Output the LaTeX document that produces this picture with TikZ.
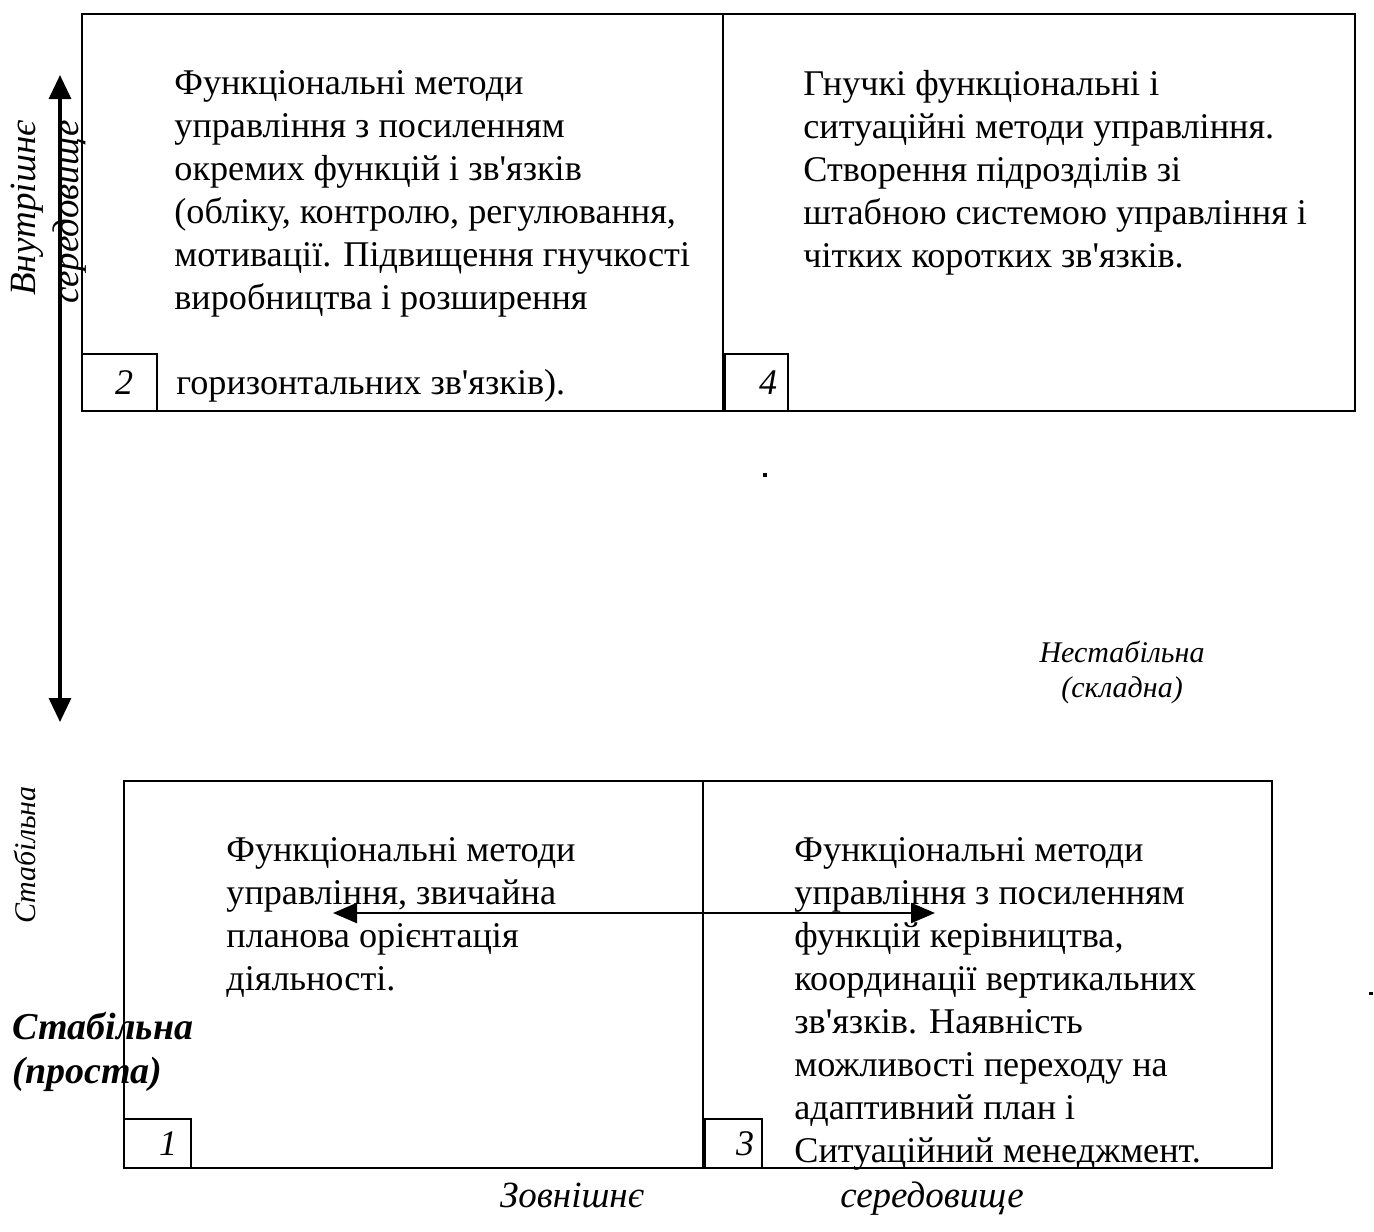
\documentclass[tikz,border=0pt]{standalone}
\usepackage{fontspec}
\setmainfont{Liberation Serif}[Ligatures=TeXOff]
\usetikzlibrary{arrows.meta}
\tikzset{
  frame/.style={draw=black, line width=1pt},
  body/.style={anchor=north west, inner sep=0pt, align=left, font=\fontsize{18.1}{21.5}\selectfont},
  num/.style={anchor=center, inner sep=0pt, font=\fontsize{18}{21.5}\selectfont\itshape},
  lab/.style={inner sep=0pt, font=\fontsize{15}{17.5}\selectfont\itshape},
  biglab/.style={inner sep=0pt, font=\fontsize{18.5}{21}\selectfont\itshape},
  dbl/.style={line width=1.6pt, {Triangle[width=11pt,length=12pt]}-{Triangle[width=11pt,length=12pt]}},
  dblh/.style={line width=1.2pt, {Triangle[width=10pt,length=12pt]}-{Triangle[width=10pt,length=12pt]}}
}
\begin{document}
\begin{tikzpicture}[x=0.5pt,y=-0.5pt]
\path[use as bounding box, fill=white] (0,0) rectangle (1374,1231);
% top boxes
\draw[frame] (82,14) rectangle (1355,411);
\draw[frame] (723,14) -- (723,411);
\draw[frame] (82,354) rectangle (157,411);
\draw[frame] (725,354) rectangle (788,411);
% bottom boxes
\draw[frame] (124,781) rectangle (1272,1168);
\draw[frame] (703,781) -- (703,1168);
\draw[frame] (124,1119) rectangle (191,1168);
\draw[frame] (705,1119) rectangle (762,1168);
% numbers
\node[num] (n2) at (124,383) {2};
\node[num] (n4) at (768,383) {4};
\node[num] (n1) at (168,1144) {1};
\node[num] (n3) at (745,1144) {3};
% texts
\node[body] (t2) at (174,70) {Функціональні методи\\управління з посиленням\\окремих функцій і зв'язків\\(обліку, контролю, регулювання,\\мотивації. Підвищення гнучкості\\виробництва і розширення};
\node[body] (t2b) at (176,369) {горизонтальних зв'язків).};
\node[body] (t4) at (803,70) {Гнучкі функціональні і\\ситуаційні методи управління.\\Створення підрозділів зі\\штабною системою управління і\\чітких коротких зв'язків.};
\node[body] (t1) at (226,837) {Функціональні методи\\управління, звичайна\\планова орієнтація\\діяльності.};
\node[body] (t3) at (794,837) {Функціональні методи\\управління з посиленням\\функцій керівництва,\\координації вертикальних\\зв'язків. Наявність\\можливості переходу на\\адаптивний план і\\Ситуаційний менеджмент.};
% arrows
\coordinate (vt) at (60,75);
\coordinate (vb) at (60,722);
\draw[dbl] (vt) -- (vb);
\coordinate (hl) at (333,913);
\coordinate (hr) at (935,913);
\draw[dblh] (hl) -- (hr);
% side labels
\node[biglab, rotate=90] (vn) at (27,208) {Внутрішнє};
\node[biglab, rotate=90] (sr) at (70,212) {середовище};
\node[lab, rotate=90] (st) at (25,855) {Стабільна};
\node[inner sep=0pt, font=\fontsize{19}{22}\selectfont\bfseries\itshape, align=left, anchor=north west] (sp) at (12,1012) {Стабільна\\(проста)};
\node[lab, align=center] (ns) at (1122,672) {Нестабільна\\(складна)};
\node[biglab, anchor=base] (zv) at (572,1207) {Зовнішнє};
\node[biglab, anchor=base] (sd) at (932,1207) {середовище};
% stray dots
\fill (763,473) rectangle (767,477);
\fill (1369,992) rectangle (1373,995);
\end{tikzpicture}
\end{document}
